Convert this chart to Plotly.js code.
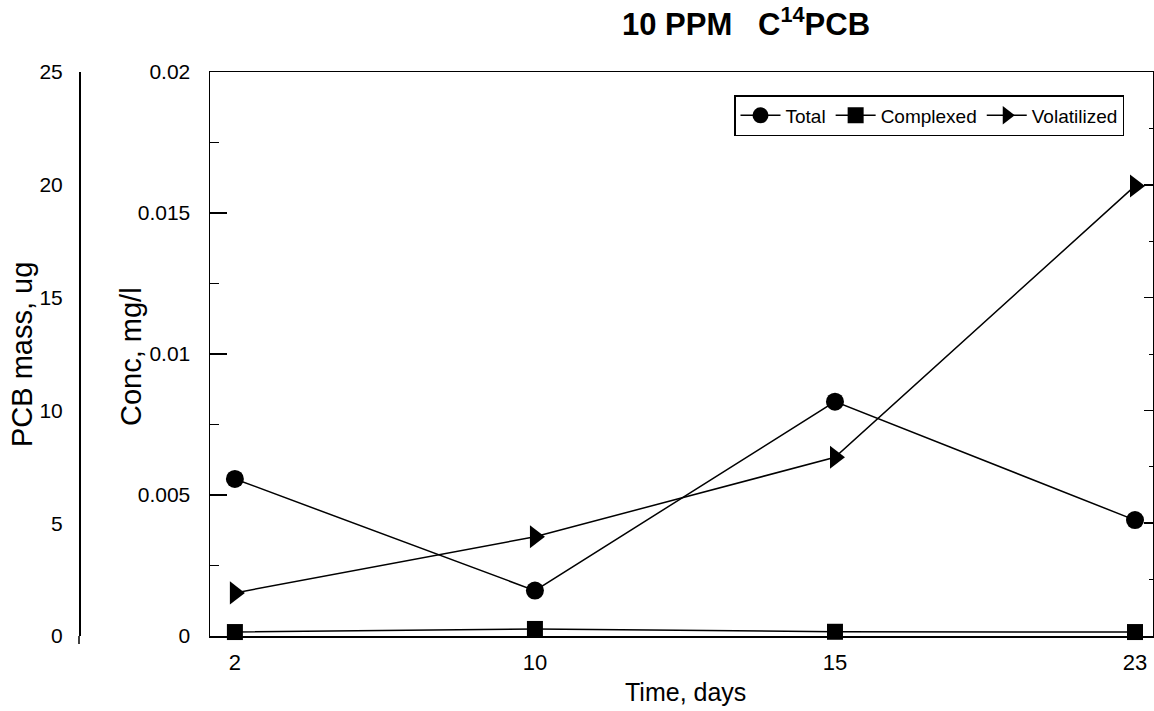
<!DOCTYPE html>
<html>
<head>
<meta charset="utf-8">
<script src="https://cdn.plot.ly/plotly-3.0.1.min.js"></script>
<style>html,body{margin:0;padding:0;background:#fff;}#chart{width:1154px;height:711px;}</style>
</head>
<body>
<div id="chart"></div>
<script>
// Data
const days = ['2', '10', '15', '23'];
const totalConc = [0.00557, 0.00161, 0.00831, 0.00411];          // mg/l
const complexedConc = [0.00014, 0.00025, 0.00015, 0.00014];      // mg/l
const volatilizedMass = [1.91, 4.40, 7.92, 19.95];               // ug
const concTicks = [0, 0.005, 0.01, 0.015, 0.02];
const concTickText = ['0', '0.005', '0.01', '0.015', '0.02'];
const massTicks = [0, 5, 10, 15, 20, 25];

const FONT = 'Liberation Sans, Arial, Helvetica, sans-serif';
const lineStyle = {color: '#000', width: 1.5};

const traces = [
  {x: days, y: totalConc, name: 'Total', type: 'scatter', mode: 'lines+markers',
   line: lineStyle, marker: {symbol: 'circle', size: 18, color: '#000'}, yaxis: 'y', cliponaxis: false},
  {x: days, y: complexedConc, name: 'Complexed', type: 'scatter', mode: 'lines+markers',
   line: lineStyle, marker: {symbol: 'square', size: 16, color: '#000'}, yaxis: 'y', cliponaxis: false},
  {x: days, y: volatilizedMass, name: 'Volatilized', type: 'scatter', mode: 'lines+markers',
   line: lineStyle, marker: {symbol: 'triangle-right', size: 20, color: '#000'}, yaxis: 'y2', cliponaxis: false},
  // draws nothing: only binds the right-hand frame axis (mass scale ticks) so that it is rendered
  {x: days, y: volatilizedMass, yaxis: 'y3', mode: 'none', type: 'scatter',
   showlegend: false, hoverinfo: 'skip'}
];

const L = 79, R = 1, T = 72, B = 75;
const W = 1154, H = 711;
const pw = W - L - R, ph = H - T - B;
const px = v => (v - L) / pw;
const py = v => (H - B - v) / ph;

const layout = {
  width: W, height: H,
  margin: {l: L, r: R, t: T, b: B, pad: 0},
  paper_bgcolor: '#fff', plot_bgcolor: '#fff',
  font: {family: FONT, color: '#000', size: 21},
  showlegend: true,
  title: {text: '<b>10 PPM   C<sup>14</sup>PCB</b>', font: {family: FONT, size: 31, color: '#000'},
          x: 746 / W, xanchor: 'center', y: 1 - 24 / H, yanchor: 'middle', xref: 'container', yref: 'container'},
  xaxis: {
    type: 'category', categoryorder: 'array', categoryarray: days,
    domain: [px(210), 1], range: [-0.083, 3.06],
    showline: true, linecolor: '#000', linewidth: 1.5, mirror: true,
    ticks: 'inside', ticklen: 8, tickcolor: '#000', tickwidth: 1.5,
    showgrid: false, zeroline: false, ticklabelstandoff: 6,
    tickfont: {family: FONT, size: 22}
  },
  yaxis: {
    range: [0, 0.02], tickvals: concTicks, ticktext: concTickText,
    showline: true, linecolor: '#000', linewidth: 1.5,
    ticks: 'inside', ticklen: 17, tickcolor: '#000', tickwidth: 1.5,
    minor: {dtick: 0.0025, ticks: 'inside', ticklen: 9, tickcolor: '#000', tickwidth: 1, showgrid: false},
    showgrid: false, zeroline: false, ticklabelstandoff: 14, tickfont: {family: FONT, size: 21}
  },
  yaxis2: {
    overlaying: 'y', anchor: 'free', position: 0, side: 'left',
    range: [0, 25], tickvals: massTicks,
    showline: true, linecolor: '#000', linewidth: 1.5,
    ticks: '', showgrid: false, zeroline: false, ticklabelstandoff: 12, tickfont: {family: FONT, size: 21}
  },
  yaxis3: {
    overlaying: 'y', anchor: 'x', side: 'right',
    range: [0, 25], dtick: 5, showticklabels: false,
    showline: true, linecolor: '#000', linewidth: 1.5,
    ticks: 'inside', ticklen: 9, tickcolor: '#000', tickwidth: 1.5,
    minor: {dtick: 2.5, ticks: 'inside', ticklen: 4, tickcolor: '#000', tickwidth: 1, showgrid: false},
    showgrid: false, zeroline: false
  },
  legend: {
    orientation: 'h', x: px(1124), xanchor: 'right', y: py(95), yanchor: 'top',
    bordercolor: '#000', borderwidth: 1.5, bgcolor: '#fff',
    font: {family: FONT, size: 19, color: '#000'}, itemwidth: 40, tracegroupgap: 0
  },
  shapes: [
    {type: 'line', xref: 'paper', yref: 'paper', x0: 0, x1: 0, y0: 0, y1: -8 / ph,
     line: {color: '#000', width: 1.5}}
  ],
  annotations: [
    {text: 'Conc, mg/l', xref: 'paper', yref: 'paper', x: px(131), y: py(357), textangle: -90,
     showarrow: false, xanchor: 'center', yanchor: 'middle', font: {family: FONT, size: 29}},
    {text: 'PCB mass, ug', xref: 'paper', yref: 'paper', x: px(22), y: py(355), textangle: -90,
     showarrow: false, xanchor: 'center', yanchor: 'middle', font: {family: FONT, size: 29}},
    {text: 'Time, days', xref: 'paper', yref: 'paper', x: px(685), y: py(692),
     showarrow: false, xanchor: 'center', yanchor: 'middle', font: {family: FONT, size: 25}}
  ]
};

Plotly.newPlot('chart', traces, layout, {displayModeBar: false, staticPlot: true});
</script>
</body>
</html>
